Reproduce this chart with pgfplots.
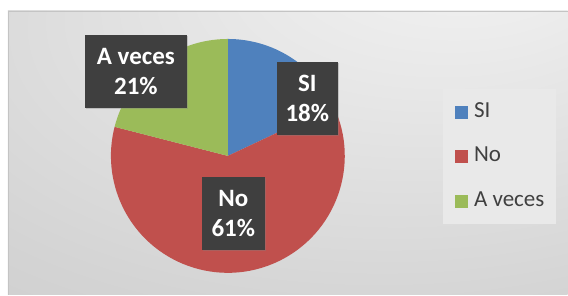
\documentclass[border=0pt]{standalone}
\usepackage{pgfplots}
\pgfplotsset{compat=1.18}
\usepackage{pgfplotstable}
\usetikzlibrary{shadows}
\usepackage{fontspec}
\setmainfont{Carlito}

\definecolor{siblue}{HTML}{4F81BD}
\definecolor{nored}{HTML}{C0504D}
\definecolor{avgreen}{HTML}{9BBB59}
\definecolor{lblbox}{HTML}{3F3F3F}
\definecolor{legtext}{HTML}{404040}
\definecolor{legbg}{HTML}{E9E9E9}
\definecolor{bordercol}{HTML}{C4C4C4}

\pgfplotstableread{
label value
SI 18
No 61
Aveces 21
}\piedata

\pgfdeclareradialshading{bgshade}{\pgfpoint{18bp}{40bp}}{%
  color(0bp)=(white!96!black);
  color(18bp)=(white!91!black);
  color(45bp)=(white!83!black);
  color(75bp)=(white!76!black)}

\pgfplotsset{sqlegend/.style={legend image code/.code={\fill[##1, draw=none] (0pt,-6.5pt) rectangle (13pt,6.5pt); \path (19pt,0pt);}}}

\begin{document}
\begin{tikzpicture}
\pgfplotstablegetelem{0}{value}\of\piedata \edef\vSI{\pgfplotsretval}
\pgfplotstablegetelem{1}{value}\of\piedata \edef\vNo{\pgfplotsretval}
\pgfplotstablegetelem{2}{value}\of\piedata \edef\vAv{\pgfplotsretval}
\pgfmathsetmacro\aA{90}
\pgfmathsetmacro\aB{90-3.6*\vSI}
\pgfmathsetmacro\aC{\aB-3.6*\vNo}
\pgfmathsetmacro\aD{\aC-3.6*\vAv}
\begin{axis}[
  scale only axis, width=568pt, height=295pt,
  xmin=0, xmax=568, ymin=0, ymax=295,
  hide axis, clip=false,
  legend cell align=left,
  legend style={at={(axis cs:443,206)}, anchor=north west, fill=legbg, draw=none,
    font=\fontsize{23}{27}\selectfont, text=legtext,
    inner xsep=12pt, inner ysep=13pt, row sep=24.5pt,
    nodes={inner sep=0pt, text height=15pt, text depth=5pt}},
]
\fill[white] (axis cs:0,0) rectangle (axis cs:568,295);
\shade[shading=bgshade] (axis cs:8,0) rectangle (axis cs:568,284);
\draw[bordercol, line width=0.8pt] (axis cs:8,0) -- (axis cs:8,284) -- (axis cs:568,284);

\fill[siblue] (axis cs:228,139) -- ++(\aA:117pt) arc[start angle=\aA, end angle=\aB, radius=117pt] -- cycle;
\fill[nored] (axis cs:228,139) -- ++(\aB:117pt) arc[start angle=\aB, end angle=\aC, radius=117pt] -- cycle;
\fill[avgreen] (axis cs:228,139) -- ++(\aC:117pt) arc[start angle=\aC, end angle=\aD, radius=117pt] -- cycle;

\tikzset{lbl/.style={fill=lblbox, text=white, font=\bfseries\fontsize{25}{30}\selectfont, align=center,
  minimum height=73pt, inner sep=0pt,
  drop shadow={opacity=0.35, shadow xshift=1.5pt, shadow yshift=-1.5pt}}}
\node[lbl, minimum width=102pt] at (axis cs:136,223.5) {A veces\\\vAv\%};
\node[lbl, minimum width=61pt] at (axis cs:307.5,196.5) {SI\\\vSI\%};
\node[lbl, minimum width=63pt] at (axis cs:233.5,81.5) {No\\\vNo\%};

\addlegendimage{sqlegend, fill=siblue}
\addlegendentry{SI}
\addlegendimage{sqlegend, fill=nored}
\addlegendentry{No}
\addlegendimage{sqlegend, fill=avgreen}
\addlegendentry{A veces}
\end{axis}
\end{tikzpicture}
\end{document}
